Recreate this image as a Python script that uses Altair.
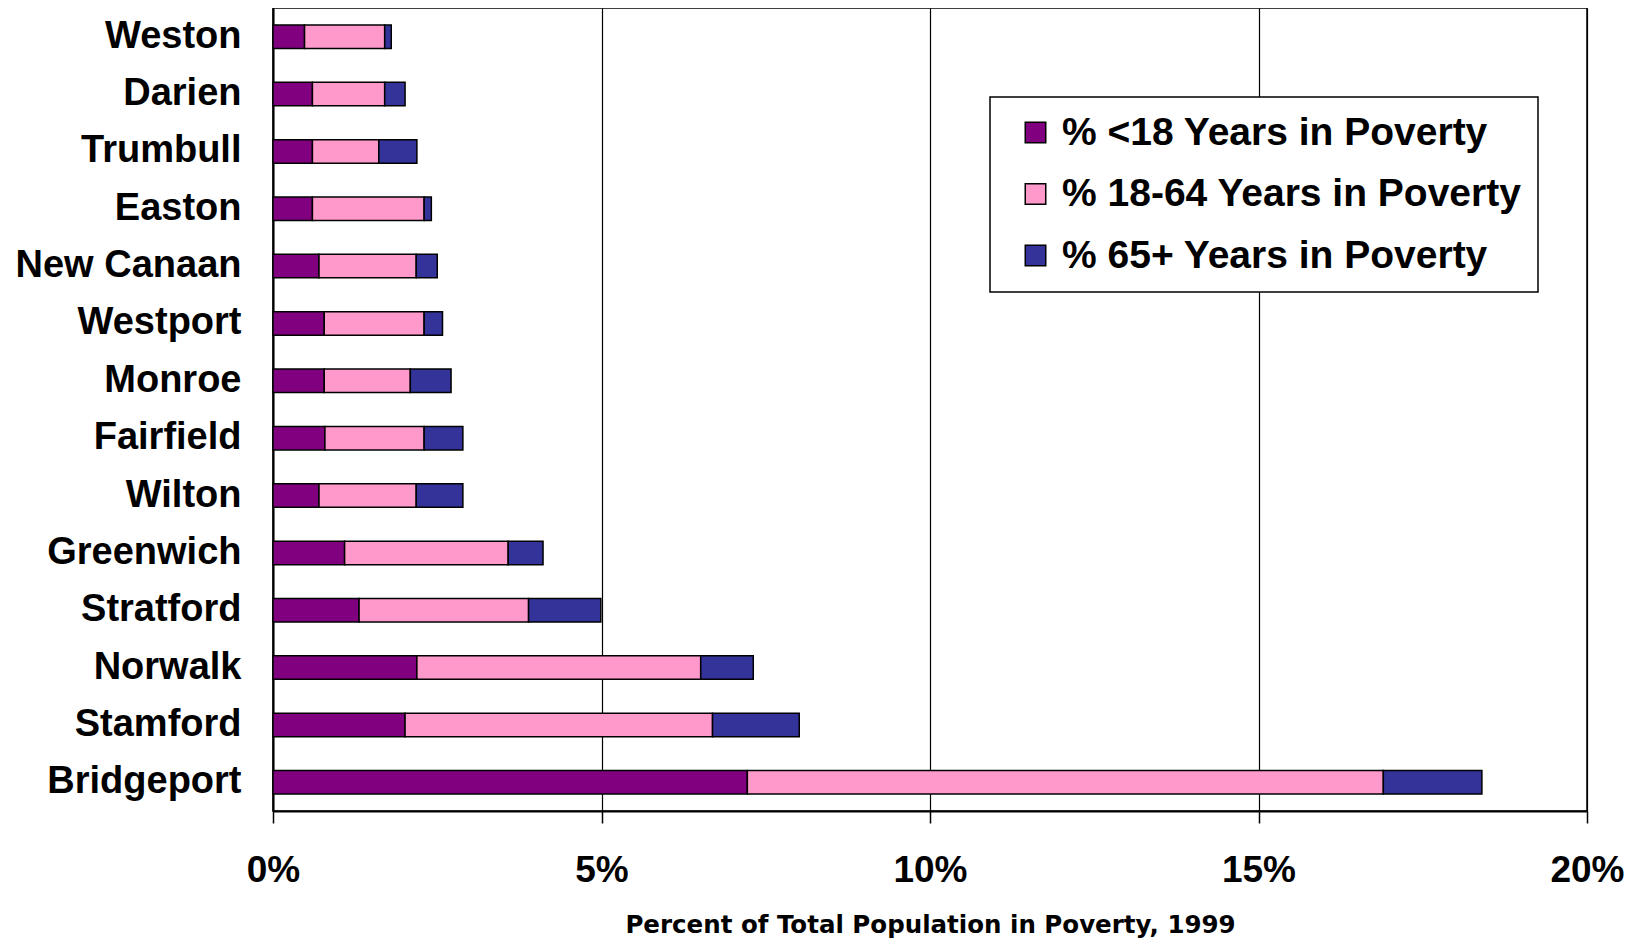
import altair as alt
import pandas as pd

cities = ["Weston", "Darien", "Trumbull", "Easton", "New Canaan", "Westport", "Monroe",
          "Fairfield", "Wilton", "Greenwich", "Stratford", "Norwalk", "Stamford", "Bridgeport"]
under18 = [0.48, 0.60, 0.60, 0.60, 0.70, 0.78, 0.78, 0.79, 0.70, 1.09, 1.31, 2.19, 2.01, 7.22]
age18_64 = [1.22, 1.10, 1.01, 1.70, 1.48, 1.52, 1.31, 1.51, 1.48, 2.49, 2.58, 4.32, 4.68, 9.68]
age65plus = [0.10, 0.31, 0.58, 0.11, 0.32, 0.28, 0.62, 0.59, 0.71, 0.53, 1.10, 0.80, 1.32, 1.50]

series = ["% <18 Years in Poverty", "% 18-64 Years in Poverty", "% 65+ Years in Poverty"]
colors = ["#800080", "#FF99CC", "#333399"]
tick_values = [0, 5, 10, 15, 20]

rows = []
for i, c in enumerate(cities):
    for k, vals in enumerate([under18, age18_64, age65plus]):
        rows.append({"city": c, "series": series[k], "order": k, "value": vals[i]})
df = pd.DataFrame(rows)

FONT = "Liberation Sans"

chart = alt.Chart(df).mark_bar(stroke="black", strokeWidth=1.5, opacity=1).encode(
    y=alt.Y("city:N", sort=cities, title=None,
            scale=alt.Scale(paddingInner=0.59, paddingOuter=0.295),
            axis=alt.Axis(ticks=False, tickSize=0, labelPadding=32, labelFontSize=38,
                          labelFont=FONT, labelFontWeight="bold", labelColor="black",
                          labelLimit=400,
                          domainColor="black", domainWidth=2, grid=False)),
    x=alt.X("value:Q", stack="zero",
            scale=alt.Scale(domain=[0, 20], nice=False),
            axis=alt.Axis(values=tick_values, labelExpr="datum.value + '%'",
                          title="Percent of Total Population in Poverty, 1999",
                          titleFont="DejaVu Sans", titleFontSize=24.5, titleFontWeight="bold",
                          titleColor="black", titleBaseline="alphabetic", titleY=121, titleX=657,
                          labelFont=FONT, labelFontSize=37, labelFontWeight="bold",
                          labelColor="black", labelPadding=29, labelFlush=False,
                          tickSize=12, tickColor="black", tickWidth=1.5,
                          domainColor="black", domainWidth=2,
                          grid=True, gridColor="black", gridWidth=1.2, gridOpacity=1)),
    color=alt.Color("series:N", scale=alt.Scale(domain=series, range=colors),
                    legend=alt.Legend(title=None, orient="none", legendX=717, legendY=89,
                                      symbolType="square", symbolSize=420,
                                      symbolStrokeColor="black", symbolStrokeWidth=1.5,
                                      symbolOpacity=1, symbolOffset=10,
                                      labelFont=FONT, labelFontSize=39, labelFontWeight="bold",
                                      labelColor="black", labelOffset=7, labelLimit=700,
                                      rowPadding=21.5, padding=16,
                                      fillColor="white", strokeColor="black")),
    order=alt.Order("order:Q", sort="ascending"),
).properties(
    width=1314, height=803,
    autosize=alt.AutoSizeParams(type="none"),
    padding={"left": 265, "top": 0, "right": 40, "bottom": 130},
).configure_view(
    stroke="black", strokeWidth=1.5
).configure_legend(
    strokeWidth=1.5
)

chart.save("out.html", embed_options={"renderer": "svg", "actions": False})
